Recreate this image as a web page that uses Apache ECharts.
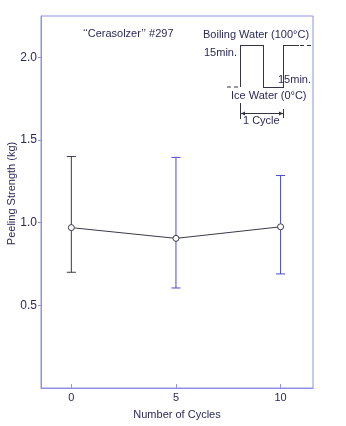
<!DOCTYPE html>
<html><head><meta charset="utf-8">
<script src="https://cdn.jsdelivr.net/npm/echarts@6/dist/echarts.min.js"></script>
<style>html,body{margin:0;padding:0;background:#fff}#c{width:346px;height:426px}</style>
</head><body><div id="c"></div>
<script>
const cycles = [0, 5, 10];
const meanStrength = [0.97, 0.905, 0.975];
const upperStrength = [1.40, 1.395, 1.285];
const lowerStrength = [0.70, 0.605, 0.69];
const barColors = ['#3a3a48', '#4a4ad0', '#4a4ad0'];
const xTicks = [0, 5, 10];
const yTicks = [0.5, 1.0, 1.5, 2.0];

const frame = '#9090e8';
const txt = '#2a2a5a';
const font = 'Liberation Sans, Arial, sans-serif';

const chart = echarts.init(document.getElementById('c'));
const lineData = cycles.map((c, i) => [c, meanStrength[i]]);
const errData = cycles.map((c, i) => [c, lowerStrength[i], upperStrength[i], i]);

const g = [];
function seg(x1, y1, x2, y2, dash) {
  g.push({type: 'line', shape: {x1, y1, x2, y2}, style: {stroke: '#333344', lineWidth: 1, lineDash: dash || null}, silent: true});
}
function text(x, y, t, align, size) {
  g.push({type: 'text', x, y, style: {text: t, fill: txt, font: (size || 11) + 'px ' + font, textAlign: align || 'left', textVerticalAlign: 'middle'}, silent: true});
}
text(83, 34, '\u2018\u2018Cerasolzer\u2019\u2019 #297', 'left', 11);
text(203, 35, 'Boiling Water (100\u00B0C)', 'left', 11);
text(204, 53, '15min.', 'left', 11);
text(278, 80, '15min.', 'left', 11);
text(231, 96, 'Ice Water (0\u00B0C)', 'left', 11);
text(243, 121, '1 Cycle', 'left', 11);
seg(227, 87, 240, 87, [4, 3]);
seg(240.5, 87, 240.5, 45);
seg(240, 45.5, 263.5, 45.5);
seg(263.5, 45, 263.5, 87.5);
seg(263, 87.5, 284, 87.5);
seg(283.5, 87.5, 283.5, 45);
seg(283, 45.5, 299, 45.5);
seg(300, 45.5, 311, 45.5, [4, 3]);
seg(240.5, 103, 240.5, 119);
seg(283.5, 109, 283.5, 118);
seg(241, 113.5, 283, 113.5);
g.push({type: 'polygon', shape: {points: [[241, 113.5], [245, 111.5], [245, 115.5]]}, style: {fill: '#333344'}, silent: true});
g.push({type: 'polygon', shape: {points: [[283, 113.5], [279, 111.5], [279, 115.5]]}, style: {fill: '#333344'}, silent: true});
g.push({type: 'text', x: 11.5, y: 193.5, rotation: Math.PI / 2,
  style: {text: 'Peeling Strength (kg)', fill: txt, font: '11px ' + font, textAlign: 'center', textVerticalAlign: 'middle'}, silent: true});

chart.setOption({
  animation: false,
  backgroundColor: '#fff',
  grid: {left: 41, right: 33, top: 16, bottom: 38, show: true, borderColor: frame, borderWidth: 1,
    containLabel: false, outerBoundsMode: 'none'},
  xAxis: {
    type: 'value', min: -1.45, max: 11.55,
    name: 'Number of Cycles', nameLocation: 'middle', nameGap: 21,
    nameTextStyle: {color: txt, fontSize: 11, fontFamily: font},
    axisLine: {show: true, onZero: false, lineStyle: {color: frame}},
    axisTick: {show: true, inside: true, length: 4, lineStyle: {color: frame}, customValues: xTicks},
    axisLabel: {color: txt, fontSize: 11, fontFamily: font, margin: 4, customValues: xTicks},
    splitLine: {show: false}
  },
  yAxis: {
    type: 'value', min: 0, max: 2.25,
    axisLine: {show: true, onZero: false, lineStyle: {color: frame}},
    axisTick: {show: true, length: 3, lineStyle: {color: frame}, customValues: yTicks},
    axisLabel: {color: txt, fontSize: 12, fontFamily: font, margin: 4, customValues: yTicks,
      formatter: v => v.toFixed(1)},
    splitLine: {show: false}
  },
  series: [
    {
      type: 'custom', data: errData, z: 2,
      renderItem: function (params, api) {
        const x = api.value(0);
        const lo = api.coord([x, api.value(1)]);
        const hi = api.coord([x, api.value(2)]);
        const col = barColors[api.value(3)];
        const w = 4.5;
        const st = {stroke: col, lineWidth: 1};
        return {type: 'group', children: [
          {type: 'line', shape: {x1: lo[0], y1: lo[1], x2: hi[0], y2: hi[1]}, style: st},
          {type: 'line', shape: {x1: lo[0] - w, y1: lo[1], x2: lo[0] + w, y2: lo[1]}, style: st},
          {type: 'line', shape: {x1: hi[0] - w, y1: hi[1], x2: hi[0] + w, y2: hi[1]}, style: st}
        ]};
      }
    },
    {
      type: 'line', data: lineData, z: 3,
      symbol: 'circle', symbolSize: 6,
      lineStyle: {color: '#3a3a48', width: 1},
      itemStyle: {color: '#ffffff', borderColor: '#3a3a48', borderWidth: 1}
    }
  ],
  graphic: g
});
</script></body></html>
